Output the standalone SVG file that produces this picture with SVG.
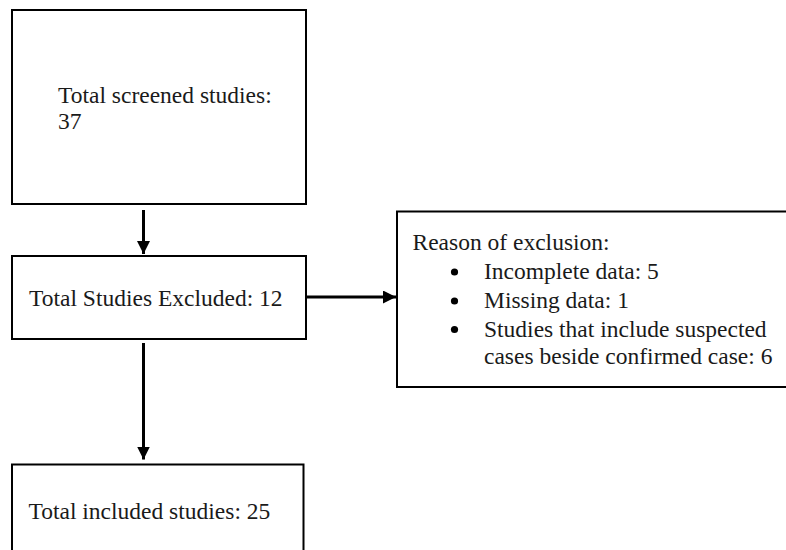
<svg xmlns="http://www.w3.org/2000/svg" width="786" height="550" viewBox="0 0 786 550">
  <style>
    .box { fill: #ffffff; stroke: #000000; stroke-width: 2; }
    .txt { font-family: "Liberation Serif", "Times New Roman", serif; font-size: 23.5px; fill: #1a1a1a; }
    .conn { stroke: #000000; stroke-width: 3; fill: none; }
  </style>
  <defs>
    <marker id="arrow" markerUnits="userSpaceOnUse" markerWidth="14" markerHeight="13" refX="13" refY="6.5" orient="auto">
      <path d="M0,0 L13,6.5 L0,13 z" fill="#000000"/>
    </marker>
  </defs>
  <rect width="786" height="550" fill="#ffffff"/>

  <g id="node-screened">
    <rect class="box" x="12" y="10" width="294" height="194"/>
    <text class="txt" x="58" y="103">Total screened studies:</text>
    <text class="txt" x="58" y="129">37</text>
  </g>

  <g id="node-excluded">
    <rect class="box" x="12" y="256" width="294" height="83"/>
    <text class="txt" x="29" y="306">Total Studies Excluded: 12</text>
  </g>

  <g id="node-reasons">
    <rect class="box" x="397" y="211.5" width="400" height="175.5"/>
    <text class="txt" x="412.5" y="250">Reason of exclusion:</text>
    <circle cx="454.5" cy="272" r="3.6" fill="#000000"/>
    <text class="txt" x="484" y="279">Incomplete data: 5</text>
    <circle cx="454.5" cy="301" r="3.6" fill="#000000"/>
    <text class="txt" x="484" y="308">Missing data: 1</text>
    <circle cx="454.5" cy="329.5" r="3.6" fill="#000000"/>
    <text class="txt" x="484" y="336.5">Studies that include suspected</text>
    <text class="txt" x="484" y="364">cases beside confirmed case: 6</text>
  </g>

  <g id="node-included">
    <rect class="box" x="12" y="464.5" width="291.5" height="100"/>
    <text class="txt" x="28.5" y="519">Total included studies: 25</text>
  </g>

  <g id="connectors">
    <line class="conn" x1="143.5" y1="210" x2="143.5" y2="254" marker-end="url(#arrow)"/>
    <line class="conn" x1="307" y1="297" x2="396" y2="297" marker-end="url(#arrow)"/>
    <line class="conn" x1="143.5" y1="343" x2="143.5" y2="459.5" marker-end="url(#arrow)"/>
  </g>
</svg>
